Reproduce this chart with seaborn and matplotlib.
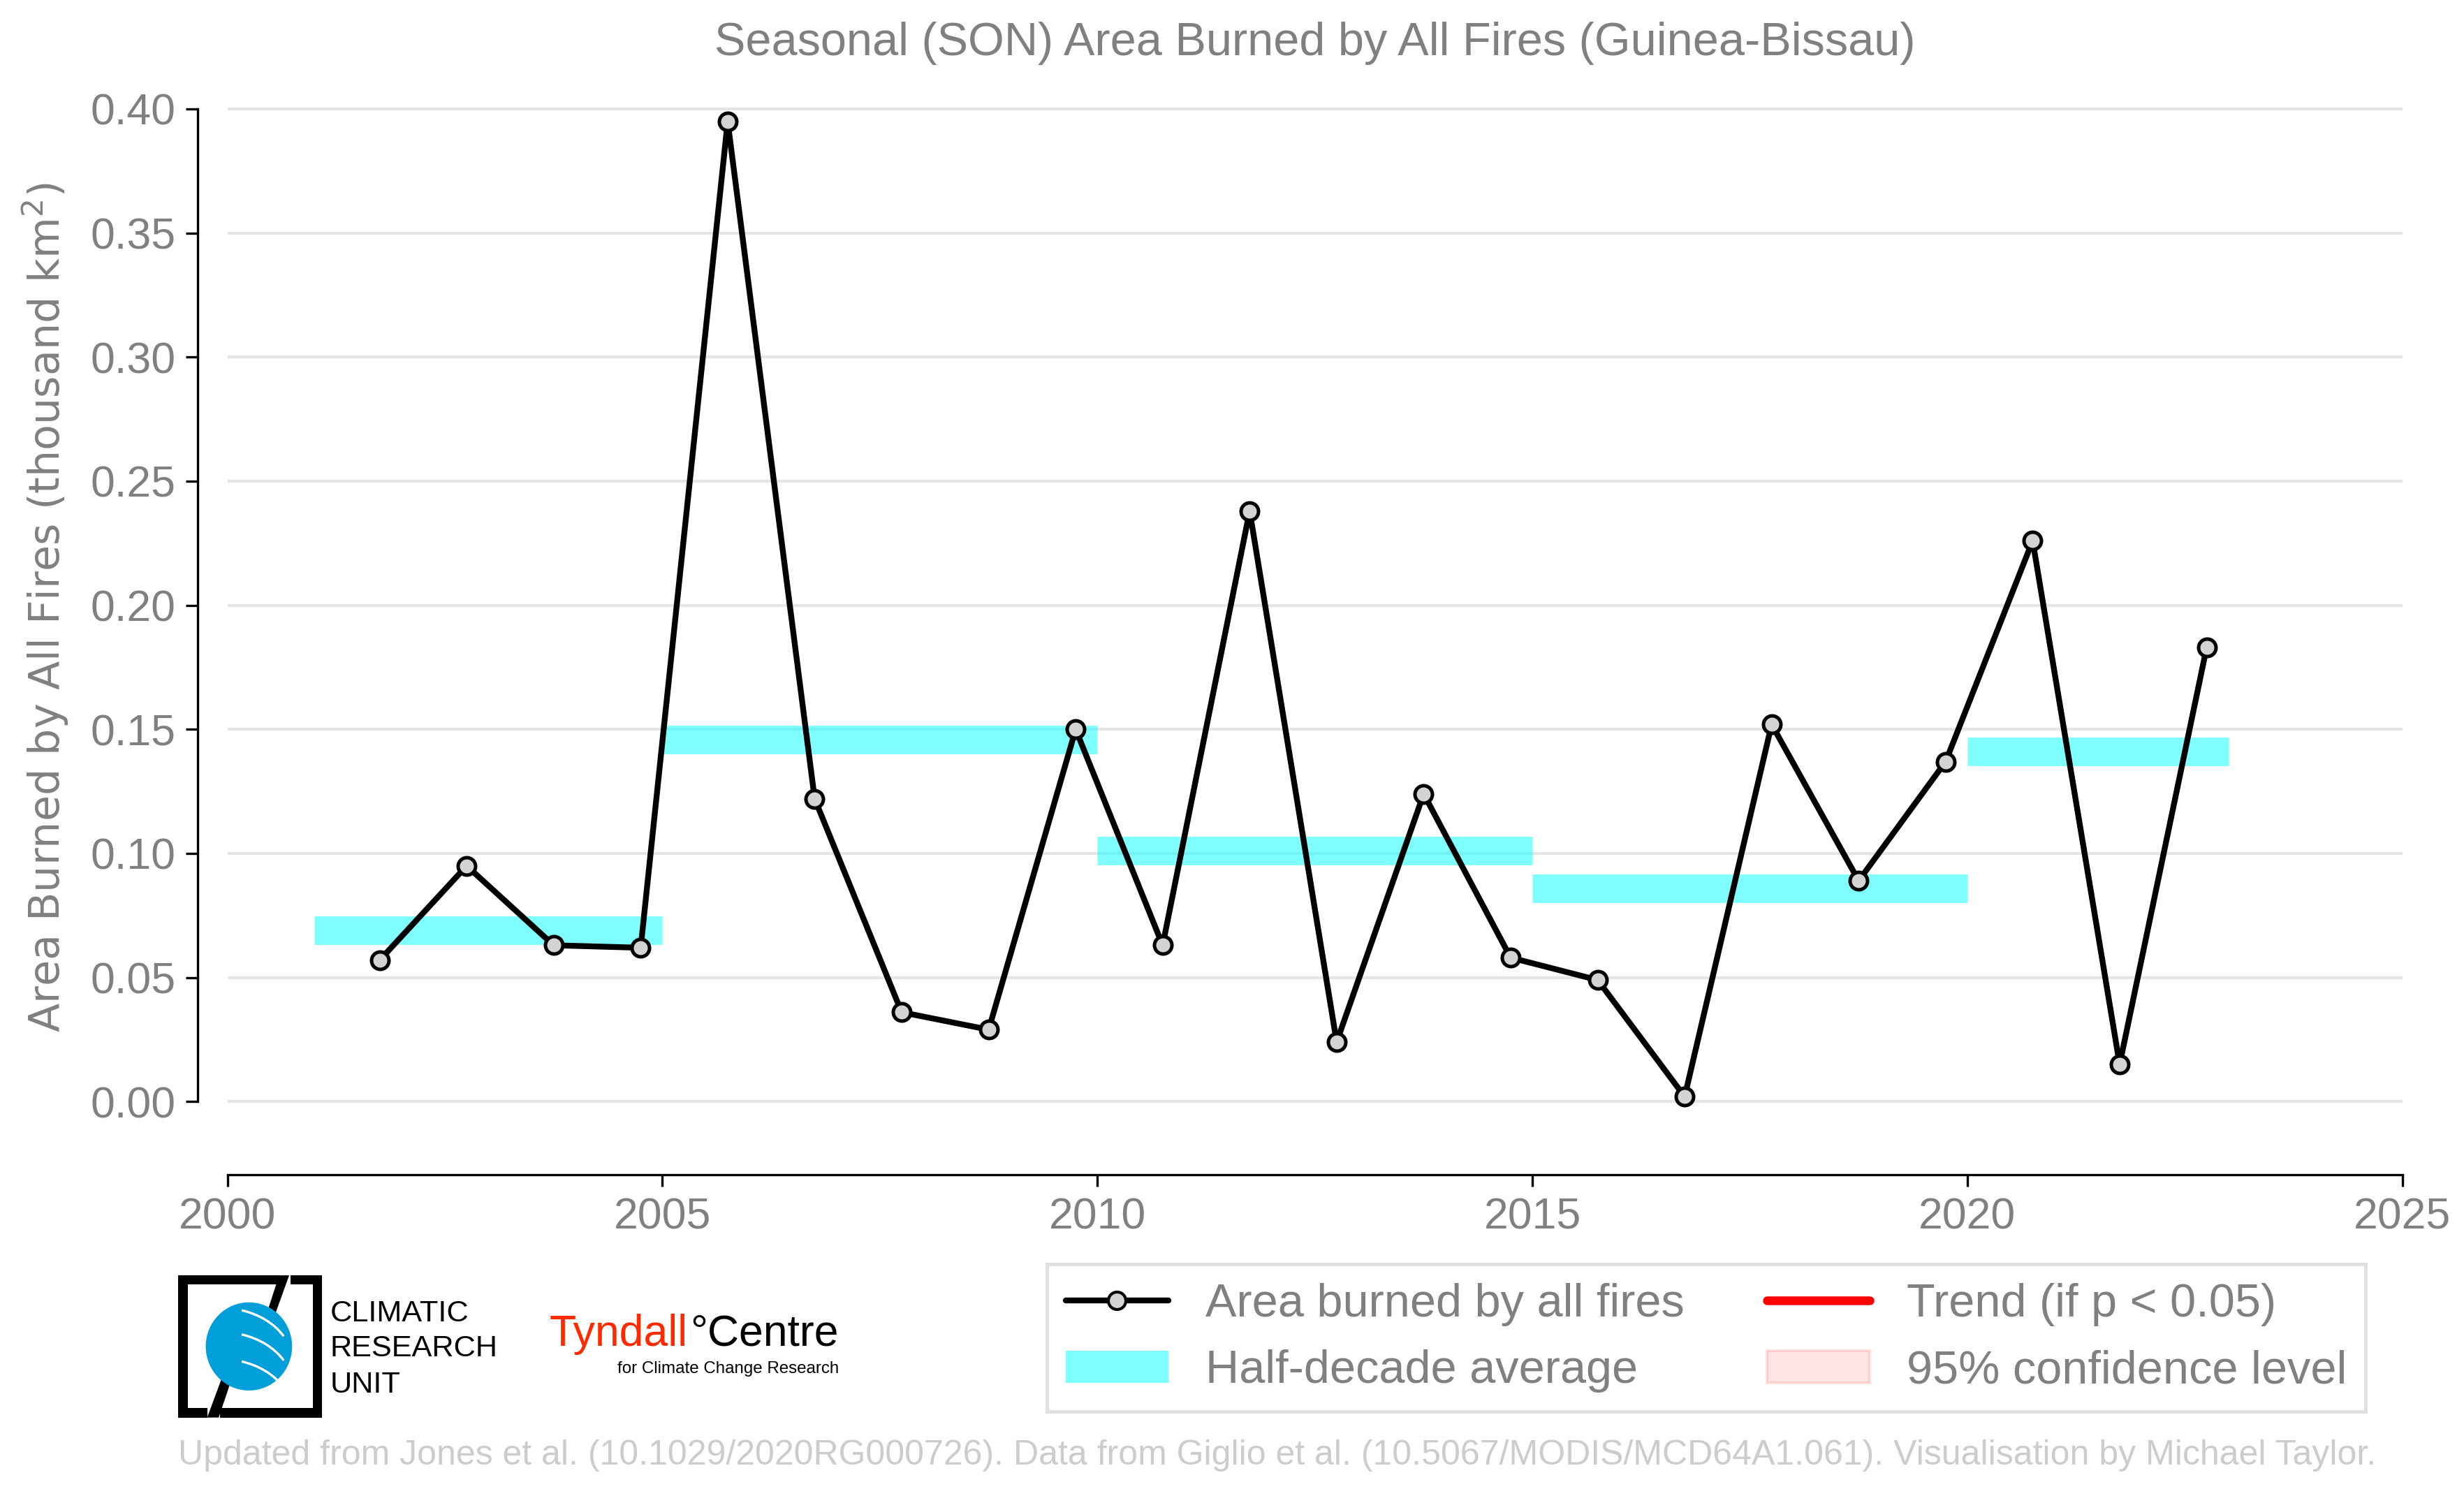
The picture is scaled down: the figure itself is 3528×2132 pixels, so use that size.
import matplotlib
matplotlib.use("Agg")
import matplotlib.pyplot as plt
from matplotlib.lines import Line2D
from matplotlib.patches import Patch, Rectangle, Polygon, Ellipse, Arc
import seaborn as sns

# dados (SON, Guinea-Bissau, mil km2)
years = list(range(2001, 2023))
area = [0.057, 0.095, 0.063, 0.062, 0.395, 0.122, 0.036, 0.029, 0.150, 0.063,
        0.238, 0.024, 0.124, 0.058, 0.049, 0.002, 0.152, 0.089, 0.137, 0.226,
        0.015, 0.183]
season_offset = 0.75  # pontos no meio da estacao

hd_start = [2001, 2005, 2010, 2015, 2020]
hd_end = [2005, 2010, 2015, 2020, 2023]
hd_mean = [0.069, 0.146, 0.101, 0.086, 0.141]

xticks = [2000, 2005, 2010, 2015, 2020, 2025]
yticks = [0.00, 0.05, 0.10, 0.15, 0.20, 0.25, 0.30, 0.35, 0.40]

GREY = "#808080"
GRID = "#e5e5e5"
CYAN = "cyan"

sns.set_theme(style="white")
plt.rcParams["font.family"] = ["Liberation Sans", "DejaVu Sans"]

fig = plt.figure(figsize=(11.76, 7.1067), dpi=300)
ax = fig.add_axes([0.0923, 0.211, 0.8827, 0.7325])

ax.hlines(hd_mean, hd_start, hd_end, colors=CYAN, alpha=0.5, linewidth=9.8, zorder=2)
sns.lineplot(x=[y + season_offset for y in years], y=area, ax=ax, color="black",
             linewidth=2, marker="o", markersize=6, markerfacecolor="lightgray",
             markeredgecolor="black", markeredgewidth=1.2, zorder=3)

ax.set_xlim(2000, 2025)
ax.set_ylim(-0.0295, 0.41)
ax.set_xticks(xticks)
ax.set_yticks(yticks)
ax.set_yticklabels([f"{v:.2f}" for v in yticks])
ax.grid(axis="y", color=GRID, linewidth=1, zorder=0)
ax.grid(axis="x", visible=False)

for s in ["top", "right"]:
    ax.spines[s].set_visible(False)
ax.spines["left"].set_position(("outward", 10.3))
ax.spines["left"].set_bounds(0, 0.4)
for s in ["left", "bottom"]:
    ax.spines[s].set_color("black")
    ax.spines[s].set_linewidth(0.8)
ax.tick_params(axis="both", colors="black", labelcolor=GREY, labelsize=15,
               length=4, width=0.8, direction="out", left=True, bottom=True)

ax.set_title("Seasonal (SON) Area Burned by All Fires (Guinea-Bissau)",
             color=GREY, fontsize=16, pad=10)
ax.set_ylabel("Area Burned by All Fires (thousand km$^2$)", color=GREY,
              fontsize=14.5, family="DejaVu Sans")
ax.yaxis.set_label_coords(-0.072, 0.52)

handles = [
    Line2D([], [], color="black", linewidth=2, marker="o", markersize=6,
           markerfacecolor="lightgray", markeredgecolor="black"),
    Patch(facecolor=CYAN, alpha=0.5, edgecolor="none"),
    Line2D([], [], color="red", linewidth=3),
    Patch(facecolor=(1, 0, 0, 0.1), edgecolor=(1, 0, 0, 0.12)),
]
labels = ["Area burned by all fires", "Half-decade average",
          "Trend (if p < 0.05)", "95% confidence level"]
leg = fig.legend(handles, labels, ncol=2, loc="lower left",
                 bbox_to_anchor=(0.425, 0.052, 0.535, 0.0986), mode="expand",
                 fontsize=16, frameon=True, fancybox=False,
                 edgecolor="#d9d9d9", labelcolor=GREY, handlelength=2.2,
                 borderaxespad=0, columnspacing=1.0)
leg.get_frame().set_linewidth(1.2)

# logo CRU (desenhado)
lg = fig.add_axes([0.0724, 0.048, 0.0584, 0.0955])
lg.set_xlim(0, 1)
lg.set_ylim(0, 1)
lg.axis("off")
t = 0.065
for r in [(0, 0, t, 1), (1 - t, 0, t, 1), (0, 1 - t, 0.70, t), (0.78, 1 - t, 0.22, t),
          (0, 0, 0.20, t), (0.29, 0, 0.71, t)]:
    lg.add_patch(Rectangle(r[:2], r[2], r[3], color="black", lw=0))
lg.add_patch(Polygon([(0.70, 1), (0.77, 1), (0.67, 0.72), (0.61, 0.72)], color="black", lw=0))
lg.add_patch(Polygon([(0.20, 0), (0.28, 0), (0.38, 0.30), (0.31, 0.30)], color="black", lw=0))
lg.add_patch(Ellipse((0.49, 0.50), 0.60, 0.62, color="#009fda", lw=0))
for yy in [0.72, 0.55, 0.36]:
    lg.add_patch(Arc((0.30, yy - 0.35), 1.0, 0.8, theta1=25, theta2=70,
                     color="white", lw=0.8))
fig.text(0.134, 0.1177, "CLIMATIC", fontsize=10.4, color="black", va="center")
fig.text(0.134, 0.0944, "RESEARCH", fontsize=10.4, color="black", va="center")
fig.text(0.134, 0.0700, "UNIT", fontsize=10.4, color="black", va="center")

# Tyndall Centre
fig.text(0.223, 0.104, "Tyndall", fontsize=15, color="#ff2a00", va="center")
fig.text(0.3404, 0.104, "°Centre", fontsize=15, color="black", va="center", ha="right")
fig.text(0.3404, 0.0806, "for Climate Change Research", fontsize=5.8,
         color="black", va="center", ha="right")

fig.text(0.0724, 0.0223,
         "Updated from Jones et al. (10.1029/2020RG000726). Data from Giglio et al. "
         "(10.5067/MODIS/MCD64A1.061). Visualisation by Michael Taylor.",
         fontsize=12, color="#cccccc", va="center")

fig.savefig("out.png", dpi=300, facecolor="white")
